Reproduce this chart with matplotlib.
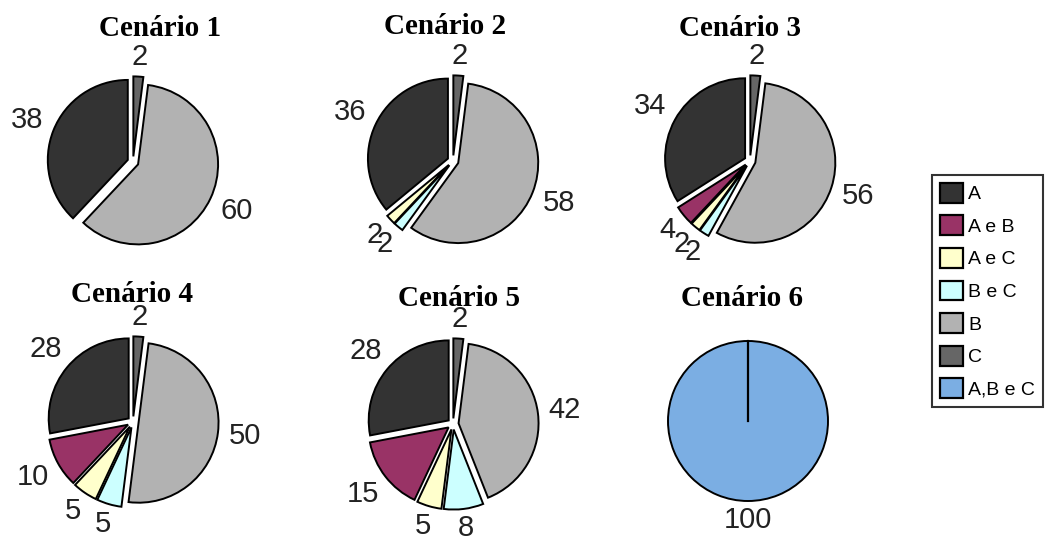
import matplotlib.pyplot as plt
import numpy as np
from matplotlib.patches import Patch

# Share of each group per scenario (%)
categories = ['A', 'A e B', 'A e C', 'B e C', 'B', 'C', 'A,B e C']
colors = ['#333333', '#993366', '#FFFFCC', '#CCFFFF', '#B2B2B2', '#666666', '#7BAEE3']

titles = ['Cenário 1', 'Cenário 2', 'Cenário 3', 'Cenário 4', 'Cenário 5', 'Cenário 6']
cenario1 = [38, 0, 0, 0, 60, 2, 0]
cenario2 = [36, 0, 2, 2, 58, 2, 0]
cenario3 = [34, 4, 2, 2, 56, 2, 0]
cenario4 = [28, 10, 5, 5, 50, 2, 0]
cenario5 = [28, 15, 5, 8, 42, 2, 0]
cenario6 = [0, 0, 0, 0, 0, 0, 100]
scenarios = [cenario1, cenario2, cenario3, cenario4, cenario5, cenario6]

W, H = 1048, 539
R = 80  # pie radius in pixels
lim = 1.6

fig = plt.figure(figsize=(W / 100, H / 100), dpi=100)
fig.patch.set_facecolor('white')

# pie centres and title anchors, in pixels from the top-left corner
centers = [(133, 162), (453, 161), (750, 161), (133, 422), (453, 424), (748, 421)]
title_pos = [(160, 28), (445, 27), (740, 28), (132, 295), (459, 298), (742, 298)]

label_fs = 21
fs_px = label_fs * 100 / 72
gap = 10 / R

for i, vals in enumerate(scenarios):
    cx, cy = centers[i]
    side = 2 * lim * R
    ax = fig.add_axes([(cx - side / 2) / W, 1 - (cy + side / 2) / H, side / W, side / H])

    v = [x for x in vals if x > 0]
    c = [col for x, col in zip(vals, colors) if x > 0]
    expl = [0.07 if len(v) > 1 else 0 for _ in v]
    wedges, _ = ax.pie(v, colors=c, explode=expl, startangle=90, counterclock=True,
                       radius=1, wedgeprops=dict(edgecolor='black', linewidth=1.4))
    # pie() resets the limits, so fix the scale afterwards
    ax.set_xlim(-lim, lim)
    ax.set_ylim(-lim, lim)
    ax.set_aspect('equal')
    ax.axis('off')

    if len(v) == 1:
        # a full circle has no radial edge, draw the start edge by hand
        w = wedges[0]
        a = np.deg2rad(w.theta1)
        ax.plot([w.center[0], w.center[0] + w.r * np.cos(a)],
                [w.center[1], w.center[1] + w.r * np.sin(a)], color='black', lw=1.6)

    for w, val in zip(wedges, v):
        ang = np.deg2rad((w.theta1 + w.theta2) / 2)
        wx, wy = w.center
        txt = str(val)
        hw = len(txt) * 0.28 * fs_px / R
        hh = 0.3 * fs_px / R
        d = 1 + gap + hw * abs(np.cos(ang)) + hh * abs(np.sin(ang))
        ax.text(wx + d * np.cos(ang), wy + d * np.sin(ang), txt, ha='center',
                va='center', fontsize=label_fs, family='Liberation Sans',
                color='#222222', clip_on=False)

    tx, ty = title_pos[i]
    fig.text(tx / W, 1 - ty / H, titles[i], ha='center', va='center', fontsize=21,
             fontweight='bold', family='Liberation Serif')

handles = [Patch(facecolor=col, edgecolor='black', linewidth=1.6) for col in colors]
leg = fig.legend(handles, categories, loc='upper left', bbox_to_anchor=(932 / W, 1 - 175 / H),
                 frameon=True, fancybox=False, handlelength=1.2, handleheight=1.2,
                 handletextpad=0.25, labelspacing=0.62, borderpad=0.4, borderaxespad=0,
                 prop={'family': 'Liberation Sans', 'size': 14})
leg.get_frame().set_edgecolor('black')
leg.get_frame().set_linewidth(1.5)

fig.savefig('out.png', dpi=100, facecolor='white')
